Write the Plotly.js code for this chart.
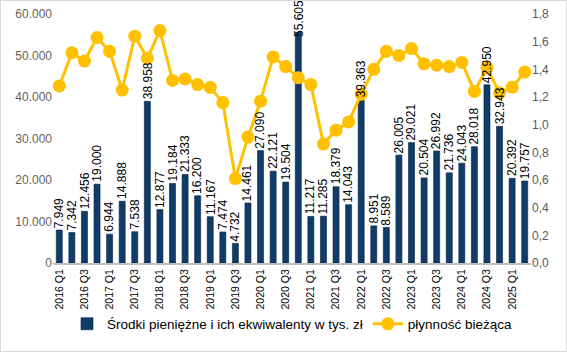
<!DOCTYPE html>
<html>
<head>
<meta charset="utf-8">
<script src="https://cdn.plot.ly/plotly-3.0.1.min.js"></script>
<style>
html,body{margin:0;padding:0;background:#fff;}
#chart{width:567px;height:352px;box-sizing:border-box;border:1px solid #d9d9d9;}
</style>
</head>
<body>
<div id="chart"></div>
<script>
const categories = [
  "2016 Q1","2016 Q2","2016 Q3","2016 Q4",
  "2017 Q1","2017 Q2","2017 Q3","2017 Q4",
  "2018 Q1","2018 Q2","2018 Q3","2018 Q4",
  "2019 Q1","2019 Q2","2019 Q3","2019 Q4",
  "2020 Q1","2020 Q2","2020 Q3","2020 Q4",
  "2021 Q1","2021 Q2","2021 Q3","2021 Q4",
  "2022 Q1","2022 Q2","2022 Q3","2022 Q4",
  "2023 Q1","2023 Q2","2023 Q3","2023 Q4",
  "2024 Q1","2024 Q2","2024 Q3","2024 Q4",
  "2025 Q1","2025 Q2"
];
const cashValues = [
  7949, 7342, 12456, 19000,
  6944, 14888, 7538, 38958,
  12877, 19184, 21333, 16200,
  11167, 7474, 4732, 14461,
  27090, 22121, 19504, 55605,
  11217, 11285, 18379, 14043,
  39363, 8951, 8589, 26005,
  29021, 20504, 26992, 21736,
  24043, 28018, 42950, 32943,
  20392, 19757
];
const liquidityValues = [
  1.28, 1.52, 1.46, 1.63,
  1.53, 1.25, 1.64, 1.48,
  1.68, 1.32, 1.33, 1.29,
  1.27, 1.16, 0.61, 0.91,
  1.17, 1.49, 1.42, 1.34,
  1.29, 0.86, 0.96, 1.02,
  1.22, 1.40, 1.53, 1.50,
  1.55, 1.44, 1.43, 1.42,
  1.45, 1.24, 1.41, 1.23,
  1.27, 1.38
];
const xTickLabels = categories.filter((c, i) => i % 2 === 0);
const leftTicks = [0, 10000, 20000, 30000, 40000, 50000, 60000];
const rightTicks = [0, 0.2, 0.4, 0.6, 0.8, 1.0, 1.2, 1.4, 1.6, 1.8];

const fontFam = '"Liberation Sans", Arial, sans-serif';
const fmtThousands = v => String(v).replace(/\B(?=(\d{3})+(?!\d))/g, '.');
const yMax = 60000;

const traces = [
  {
    type: 'bar',
    name: 'Środki pieniężne i ich ekwiwalenty w tys. zł',
    x: categories,
    y: cashValues,
    yaxis: 'y',
    width: 0.48,
    marker: {
      color: '#0f3c68',
      line: {color: '#082440', width: 0.6}
    },
    hoverinfo: 'skip'
  },
  {
    type: 'scatter',
    mode: 'lines+markers',
    name: 'płynność bieżąca',
    x: categories,
    y: liquidityValues,
    yaxis: 'y2',
    line: {color: '#FFC000', width: 3},
    marker: {color: '#FFC000', size: 13},
    cliponaxis: false
  }
];

// value labels above bars, drawn on top of the line (as in the reference);
// a label that would run off the top is nudged down onto its bar's top
const barLabels = categories.map((c, i) => ({
  x: c,
  y: cashValues[i],
  xref: 'x',
  yref: 'y',
  text: fmtThousands(cashValues[i]),
  textangle: -90,
  showarrow: false,
  xanchor: 'center',
  yanchor: 'bottom',
  yshift: cashValues[i] > 0.88 * yMax ? -7 : 0,
  borderpad: 1,
  font: {family: fontFam, size: 12, color: '#000'}
}));

const layout = {
  width: 565,
  height: 350,
  separators: ',.',
  margin: {l: 52, r: 35, t: 13, b: 88, autoexpand: false},
  paper_bgcolor: '#fff',
  plot_bgcolor: '#fff',
  showlegend: true,
  bargap: 0.5,
  font: {family: fontFam, color: '#595959', size: 12},
  annotations: barLabels,
  xaxis: {
    type: 'category',
    range: [-0.5, categories.length - 0.5],
    automargin: false,
    tickmode: 'array',
    tickvals: xTickLabels,
    ticktext: xTickLabels,
    tickangle: -90,
    tickfont: {family: fontFam, size: 10.5, color: '#000'},
    showgrid: false,
    showline: true,
    linecolor: '#bfbfbf',
    linewidth: 2,
    ticks: '',
    zeroline: false
  },
  yaxis: {
    range: [0, yMax],
    automargin: false,
    tickmode: 'array',
    tickvals: leftTicks,
    tickformat: ',.0f',
    showgrid: false,
    zeroline: false,
    showline: false,
    ticks: '',
    tickfont: {family: fontFam, size: 12, color: '#6b6256'}
  },
  yaxis2: {
    range: [0, 1.8],
    automargin: false,
    overlaying: 'y',
    side: 'right',
    tickmode: 'array',
    tickvals: rightTicks,
    tickformat: '.1f',
    showgrid: false,
    zeroline: false,
    showline: false,
    ticks: '',
    tickfont: {family: fontFam, size: 12, color: '#595959'}
  },
  legend: {
    orientation: 'h',
    x: 0.5,
    xanchor: 'center',
    y: -0.245,
    yanchor: 'middle',
    font: {family: fontFam, size: 13.5, color: '#000'},
    itemwidth: 30,
    traceorder: 'normal',
    bgcolor: 'rgba(0,0,0,0)'
  }
};

Plotly.newPlot('chart', traces, layout, {displayModeBar: false, staticPlot: true});
</script>
</body>
</html>
